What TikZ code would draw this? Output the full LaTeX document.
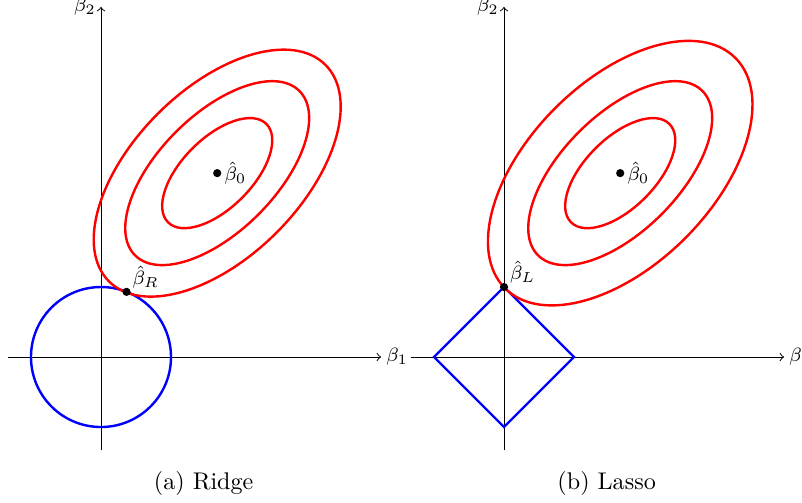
\documentclass[tikz,border=0pt]{standalone}
\usepackage{tikz}
\usetikzlibrary{positioning}
\usepackage{amsmath}

\begin{document}
\begin{tikzpicture}[
          x=0.68cm, y=0.68cm,
          axis/.style={->, black, line width=0.4pt},
          contour/.style={red, line width=1pt},
          penalty/.style={blue, line width=1pt},
          dot/.style={circle, fill=black, inner sep=0pt, minimum size=3.4pt},
          lbl/.style={font=\footnotesize, inner sep=1pt}
        ]
        \useasboundingbox (-2.164,-3.107) rectangle (15.02,7.65);
        % (a) ridge
        \coordinate (ox) at (-2,0);
        \coordinate (ex) at (6,0);
        \coordinate (oy) at (0,-2);
        \coordinate (ey) at (0,7.5);
        \draw[axis] (ox) -- (ex);
        \draw[axis] (oy) -- (ey);
        \node[lbl, right=1pt of ex] (b1) {$\beta_1$};
        \node[lbl, left=1pt of ey] (b2) {$\beta_2$};
        \draw[penalty] (0,0) circle (1.5);
        \coordinate (c) at (2.49,3.94);
        \draw[contour, rotate around={45:(c)}] (c) ellipse (1.49 and 0.75);
        \draw[contour, rotate around={45:(c)}] (c) ellipse (2.49 and 1.25);
        \draw[contour, rotate around={45:(c)}] (c) ellipse (3.28 and 1.8);
        \node[dot] (d0) at (c) {};
        \node[lbl, right=0pt of d0] (l0) {$\hat{\beta}_0$};
        \node[dot] (dr) at (68.6:1.5) {};
        \node[lbl, above right=-1pt and 0pt of dr] (lr) {$\hat{\beta}_R$};
        \node (capa) at (2.2,-2.72) {(a) Ridge};
        % (b) lasso
        \begin{scope}[shift={(8.635,0)}]
          \coordinate (oxl) at (-2,0);
          \coordinate (exl) at (6,0);
          \coordinate (oyl) at (0,-2);
          \coordinate (eyl) at (0,7.5);
          \draw[axis] (oxl) -- (exl);
          \draw[axis] (oyl) -- (eyl);
          \node[lbl, right=1pt of exl] (b1l) {$\beta_1$};
          \node[lbl, left=1pt of eyl] (b2l) {$\beta_2$};
          \draw[penalty] (1.5,0) -- (0,1.5) -- (-1.5,0) -- (0,-1.5) -- cycle;
          \coordinate (cl) at (2.49,3.94);
          \draw[contour, rotate around={45:(cl)}] (cl) ellipse (1.49 and 0.75);
          \draw[contour, rotate around={45:(cl)}] (cl) ellipse (2.49 and 1.25);
          \draw[contour, rotate around={45:(cl)}] (cl) ellipse (3.49 and 1.97);
          \node[dot] (d0l) at (cl) {};
          \node[lbl, right=0pt of d0l] (l0l) {$\hat{\beta}_0$};
          \node[dot] (dl) at (0,1.5) {};
          \node[lbl, above right=-1pt and 0pt of dl] (ll) {$\hat{\beta}_L$};
          \node (capb) at (2.2,-2.72) {(b) Lasso};
        \end{scope}
      \end{tikzpicture}
\end{document}
